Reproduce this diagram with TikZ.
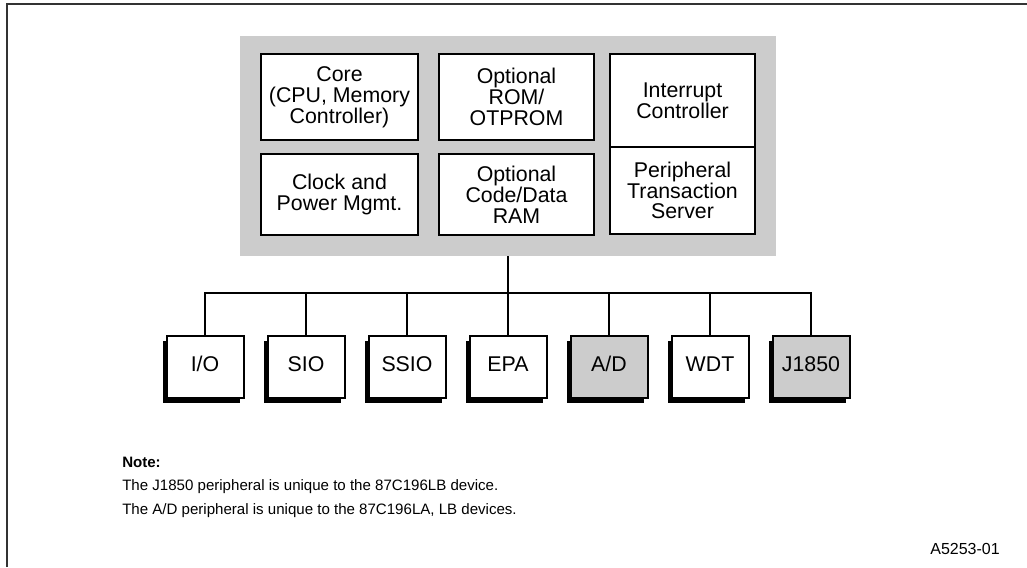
\documentclass[tikz,border=0pt]{standalone}
\usepackage{fontspec}
\setmainfont{Liberation Sans}
\usetikzlibrary{shadows}
\definecolor{panel}{HTML}{CCCCCC}
\definecolor{framec}{HTML}{333333}
\begin{document}
\begin{tikzpicture}[x=0.75pt,y=-0.75pt,
  blk/.style={draw=black, line width=1.5pt, fill=white, align=center, inner sep=0pt,
    font=\fontsize{16}{15.6}\selectfont},
  per/.style={blk, minimum width=57.75pt, minimum height=46.5pt,
    text height=0.72em, text depth=0pt,
    drop shadow={shadow xshift=-3pt, shadow yshift=-3.75pt, opacity=1, fill=black}},
  perg/.style={per, fill=panel},
  wire/.style={line width=1.5pt, draw=black},
  notetxt/.style={anchor=west, inner sep=0pt, font=\fontsize{11.3}{13}\selectfont}]
\useasboundingbox (0,0) rectangle (1027,567);
\fill[white] (0,0) rectangle (1027,567);
\draw[framec, line width=1.5pt] (6.5,567) -- (6.5,4.5) -- (1027,4.5);
% processor panel
\node[fill=panel, draw=none, minimum width=402pt, minimum height=165pt, inner sep=0pt] (panel) at (508,146) {};
\node[blk, minimum width=117.75pt, minimum height=64.5pt] (core) at (339.5,97) {Core\\(CPU, Memory\\Controller)};
\node[blk, minimum width=116.25pt, minimum height=64.5pt] (rom) at (516.5,97) {Optional\\ROM/\\OTPROM};
\node[blk, minimum width=108.75pt, minimum height=69.75pt] (intc) at (682.5,100.5) {Interrupt\\Controller};
\node[blk, minimum width=117.75pt, minimum height=60.75pt] (clk) at (339.5,194.5) {Clock and\\Power Mgmt.};
\node[blk, minimum width=116.25pt, minimum height=60.75pt] (ram) at (516.5,194.5) {Optional\\Code/Data\\RAM};
\node[blk, minimum width=108.75pt, minimum height=65.25pt] (pts) at (682.5,190.5) {Peripheral\\Transaction\\Server};
% peripherals
\node[per]  (io)   at (205,367) {I/O};
\node[per]  (sio)  at (306,367) {SIO};
\node[per]  (ssio) at (407,367) {SSIO};
\node[per]  (epa)  at (508,367) {EPA};
\node[perg] (ad)   at (609,367) {A/D};
\node[per]  (wdt)  at (710,367) {WDT};
\node[perg] (j)    at (811,367) {J1850};
\coordinate (bus) at (0,293);
\draw[wire] (panel.south) -- (panel.south |- bus);
\draw[wire] (io.north) -- (io.north |- bus) -- (j.north |- bus) -- (j.north);
\foreach \n in {sio,ssio,epa,ad,wdt}{
  \draw[wire] (\n.north) -- (\n.north |- bus);
}
% note
\node[notetxt, font=\fontsize{11.3}{13}\selectfont\bfseries] (note) at (122,462) {Note:};
\node[notetxt] (l1) at (122,487) {The J1850 peripheral is unique to the 87C196LB device.};
\node[notetxt] (l2) at (122,511) {The A/D peripheral is unique to the 87C196LA, LB devices.};
\node[anchor=east, inner sep=0pt, font=\fontsize{12}{14}\selectfont] (fig) at (1000,549) {A5253-01};
\end{tikzpicture}
\end{document}
